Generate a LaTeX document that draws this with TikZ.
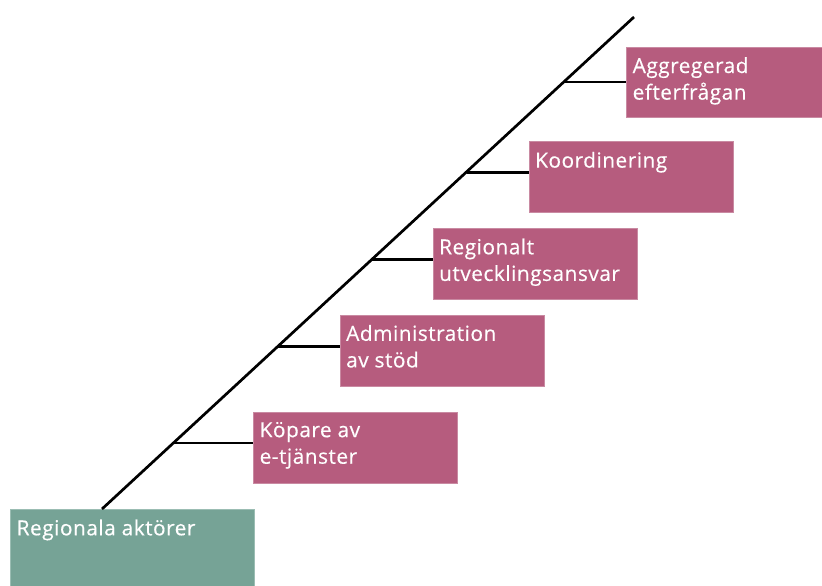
\documentclass[tikz,border=0pt]{standalone}
\usepackage{fontspec}
\setmainfont[LetterSpace=2.5,FakeBold=0.4]{Open Sans}
\definecolor{rose}{HTML}{B65C7E}
\definecolor{roseedge}{HTML}{C98AA2}
\definecolor{sage}{HTML}{76A396}
\definecolor{sageedge}{HTML}{9BBDB3}
\begin{document}
\begin{tikzpicture}[x=1pt,y=-1pt,
  rolebox/.style={draw=roseedge, line width=0.8pt, fill=rose, rectangle, anchor=north west, inner sep=0pt},
  basebox/.style={draw=sageedge, line width=0.8pt, fill=sage, rectangle, anchor=north west, inner sep=0pt},
  boxtext/.style={anchor=north west, inner sep=0pt, text=white, align=left,
    font=\fontsize{20.8}{26.6}\selectfont},
  link/.style={line width=2.7pt, black}]
\useasboundingbox (0,0) rectangle (822,586);
% boxes
\node[basebox, minimum width=244pt, minimum height=80pt] (b0) at (10,509) {};
\node[rolebox, minimum width=204pt, minimum height=71pt] (b1) at (253,411.5) {};
\node[rolebox, minimum width=204pt, minimum height=71pt] (b2) at (339.5,314.5) {};
\node[rolebox, minimum width=204pt, minimum height=71pt] (b3) at (432.5,228) {};
\node[rolebox, minimum width=204pt, minimum height=71pt] (b4) at (528.5,141.3) {};
\node[rolebox, minimum width=200pt, minimum height=70.5pt] (b5) at (626,46.7) {};
% texts
\node[boxtext] (t0) at ([shift={(6.5,10.3)}]b0.north west) {Regionala aktörer};
\node[boxtext] (t1) at ([shift={(6.5,10.3)}]b1.north west) {Köpare av\\e-tjänster};
\node[boxtext] (t2) at ([shift={(6.5,10.3)}]b2.north west) {Administration\\av stöd};
\node[boxtext] (t3) at ([shift={(6.5,10.3)}]b3.north west) {Regionalt\\utvecklingsansvar};
\node[boxtext] (t4) at ([shift={(6.5,10.3)}]b4.north west) {Koordinering};
\node[boxtext] (t5) at ([shift={(6.5,10.3)}]b5.north west) {Aggregerad\\efterfrågan};
% diagonal
\coordinate (d0) at (102,509);
\coordinate (d1) at (634,17);
\draw[link] (d0) -- (d1);
% junctions on the diagonal
\coordinate (c1) at (172.6,443);
\coordinate (c2) at (276.5,346.7);
\coordinate (c3) at (370.8,259.5);
\coordinate (c4) at (466.5,172.3);
\coordinate (c5) at (564.5,82);
\draw[link] (c1) -- (c1 -| b1.west);
\draw[link] (c2) -- (c2 -| b2.west);
\draw[link] (c3) -- (c3 -| b3.west);
\draw[link] (c4) -- (c4 -| b4.west);
\draw[link] (c5) -- (c5 -| b5.west);
\end{tikzpicture}
\end{document}
